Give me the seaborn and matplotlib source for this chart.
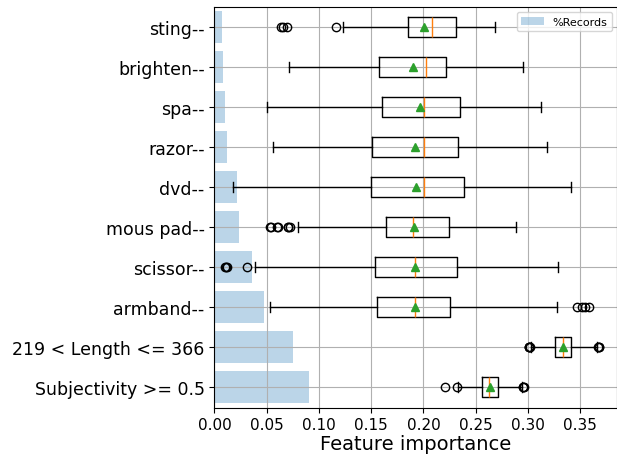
import matplotlib
matplotlib.use("Agg")
import matplotlib.pyplot as plt
import seaborn as sns
import numpy as np

# features, top to bottom
labels = ["sting--", "brighten--", "spa--", "razor--", "dvd--", "mous pad--",
          "scissor--", "armband--", "219 < Length <= 366", "Subjectivity >= 0.5"]
records = [0.0073, 0.0082, 0.0101, 0.012, 0.0216, 0.0235, 0.036, 0.0474, 0.0752, 0.0905]

# box stats
whislo = [0.123, 0.0717, 0.0506, 0.0564, 0.0181, 0.0797, 0.0385, 0.0535, 0.3026, 0.2327]
q1 = [0.1855, 0.1578, 0.160, 0.1505, 0.1495, 0.1645, 0.1533, 0.1559, 0.3255, 0.256]
med = [0.2085, 0.2021, 0.2002, 0.2005, 0.2002, 0.1903, 0.1916, 0.1919, 0.3332, 0.263]
means = [0.2008, 0.190, 0.1964, 0.1916, 0.1926, 0.191, 0.1916, 0.1919, 0.3332, 0.2636]
q3 = [0.2308, 0.2219, 0.2353, 0.2334, 0.2385, 0.2247, 0.2324, 0.2254, 0.3409, 0.2713]
whishi = [0.2688, 0.2953, 0.3128, 0.3179, 0.3409, 0.2885, 0.3287, 0.328, 0.3663, 0.2946]
fliers = [
    [0.064, 0.066, 0.069, 0.1163],
    [],
    [],
    [],
    [],
    [0.0534, 0.0545, 0.060, 0.0611, 0.070, 0.0707, 0.0723],
    [0.0105, 0.0111, 0.0118, 0.0315],
    [0.3466, 0.3514, 0.3545, 0.3587],
    [0.3005, 0.301, 0.3013, 0.3018, 0.3673, 0.3678, 0.3683],
    [0.2203, 0.2321, 0.2951, 0.2955, 0.296],
]

fig = plt.figure(figsize=(6.17, 4.56), dpi=100)
ax = fig.add_axes([214.4 / 617, 1 - 408.5 / 456, 403 / 617, 401 / 456])

sns.barplot(x=records, y=labels, color="C0", alpha=0.3, width=0.8, saturation=1,
            label="%Records", ax=ax)

stats = []
for i in range(len(labels)):
    stats.append({"whislo": whislo[i], "q1": q1[i], "med": med[i], "mean": means[i],
                  "q3": q3[i], "whishi": whishi[i], "fliers": fliers[i]})
ax.bxp(stats, positions=np.arange(len(labels)), widths=0.5,
       orientation="horizontal", showmeans=True, manage_ticks=False)

ax.set_ylim(9.52, -0.5)
ax.set_xlim(0, 0.3855)
ax.set_xticks(np.arange(0, 0.36, 0.05))
ax.grid(True)
ax.set_ylabel("")
ax.set_xlabel("Feature importance", fontsize=14, labelpad=1.5)
ax.tick_params(axis="y", labelsize=12.5)
ax.tick_params(axis="x", labelsize=11, pad=3)
ax.legend(loc="upper right", fontsize=8)

fig.savefig("out.png", dpi=100)
